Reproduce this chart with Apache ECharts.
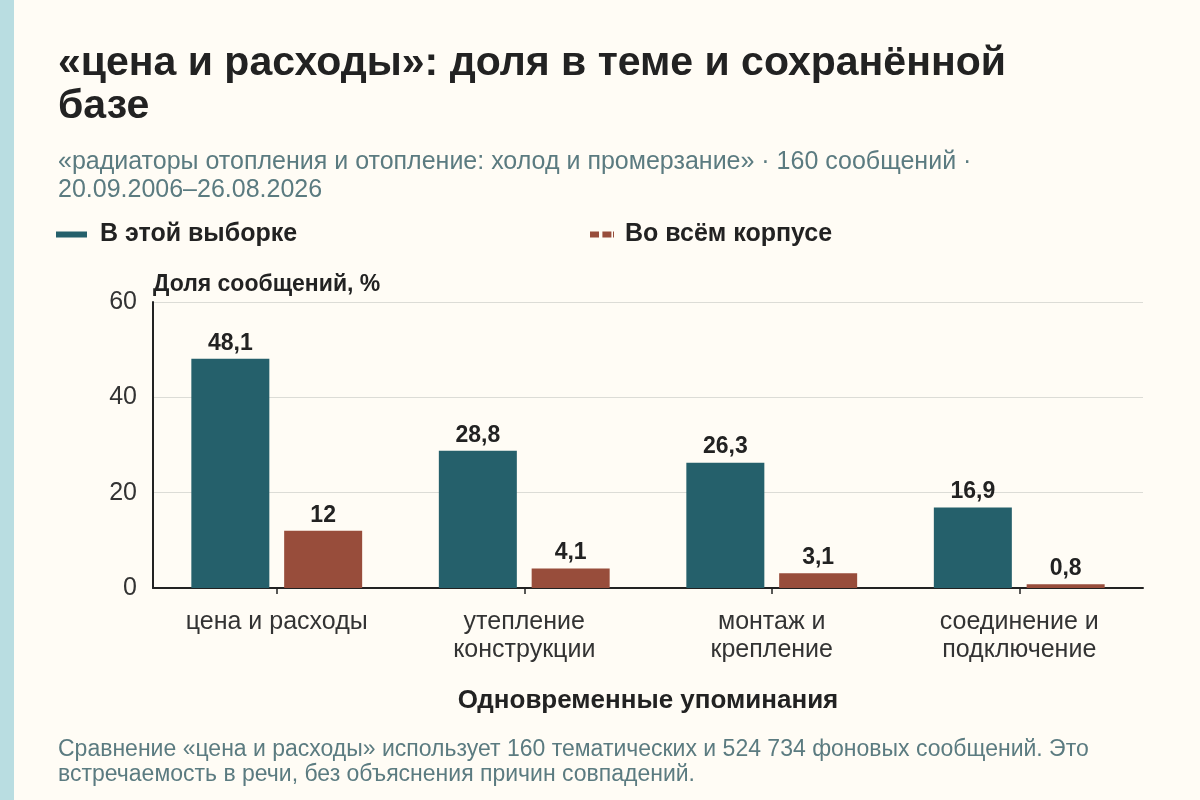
<!DOCTYPE html>
<html>
<head>
<meta charset="utf-8">
<script src="https://cdn.jsdelivr.net/npm/echarts@6/dist/echarts.min.js"></script>
<style>
  html, body { margin: 0; padding: 0; background: #fffcf5; }
  #chart { width: 1200px; height: 800px; }
</style>
</head>
<body>
<div id="chart"></div>
<script>
var categories = ['цена и расходы', 'утепление\nконструкции', 'монтаж и\nкрепление', 'соединение и\nподключение'];
var sampleShare = [48.1, 28.8, 26.3, 16.9];
var corpusShare = [12, 4.1, 3.1, 0.8];
var seriesNames = ['В этой выборке', 'Во всём корпусе'];
var yTicks = { min: 0, max: 60, interval: 20 };

var font = '"Liberation Sans", Arial, sans-serif';
var teal = '#25606b';
var brown = '#984d3b';

function fmt(p) {
    return String(p.value).replace('.', ',');
}

var chart = echarts.init(document.getElementById('chart'));
var option = {
    backgroundColor: '#fffcf5',
    textStyle: { fontFamily: font },
    title: [{
        text: '«цена и расходы»: доля в теме и сохранённой\nбазе',
        left: 53, top: 37,
        textStyle: { fontSize: 41, fontWeight: 'bold', color: '#222', lineHeight: 43, fontFamily: font }
    }, {
        text: '«радиаторы отопления и отопление: холод и промерзание» · 160 сообщений ·\n20.09.2006–26.08.2026',
        left: 53, top: 143,
        textStyle: { fontSize: 25, fontWeight: 'normal', color: '#5b7b80', lineHeight: 28, fontFamily: font }
    }, {
        text: 'Сравнение «цена и расходы» использует 160 тематических и 524 734 фоновых сообщений. Это\nвстречаемость в речи, без объяснения причин совпадений.',
        left: 53, top: 732,
        textStyle: { fontSize: 23, fontWeight: 'normal', color: '#5b7b80', lineHeight: 25, fontFamily: font }
    }],
    graphic: [{
        type: 'rect', left: 0, top: 0,
        shape: { width: 14, height: 800 },
        style: { fill: '#b9dde1' }
    }],
    legend: [{
        data: [seriesNames[0]],
        left: 56, top: 222, padding: 0,
        icon: 'rect', itemWidth: 31, itemHeight: 6,
        textStyle: { fontSize: 25, fontWeight: 'bold', color: '#222', fontFamily: font, padding: [0, 0, 0, 8] }
    }, {
        data: [seriesNames[1]],
        left: 590, top: 222, padding: 0,
        icon: 'path://M0,0H9V6H0Z M12.4,0H21.4V6H12.4Z M23,0H24V6H23Z',
        itemWidth: 24, itemHeight: 6,
        textStyle: { fontSize: 25, fontWeight: 'bold', color: '#222', fontFamily: font, padding: [0, 0, 0, 6] }
    }],
    grid: { left: 153, right: 57, top: 302, bottom: 212 },
    xAxis: {
        type: 'category',
        data: categories,
        name: 'Одновременные упоминания',
        nameLocation: 'middle',
        nameGap: 100,
        nameTextStyle: { fontSize: 26, fontWeight: 'bold', color: '#222', fontFamily: font },
        axisLine: { lineStyle: { color: '#222', width: 2 } },
        axisTick: { show: true, alignWithLabel: true, length: 6, lineStyle: { color: '#222', width: 1.5 } },
        axisLabel: { fontSize: 25, color: '#333', margin: 20, lineHeight: 28, fontFamily: font, interval: 0 }
    },
    yAxis: {
        type: 'value',
        min: yTicks.min, max: yTicks.max, interval: yTicks.interval,
        name: 'Доля сообщений, %',
        nameLocation: 'end',
        nameGap: 6,
        nameTextStyle: { fontSize: 23, fontWeight: 'bold', color: '#222', align: 'left', fontFamily: font },
        axisLine: { show: true, lineStyle: { color: '#222', width: 2 } },
        axisTick: { show: false },
        axisLabel: { fontSize: 25, color: '#333', margin: 16, fontFamily: font },
        splitLine: { lineStyle: { color: '#dcdcd6', width: 1 } }
    },
    series: [{
        name: seriesNames[0],
        type: 'bar',
        data: sampleShare,
        barWidth: 78,
        barGap: '19%',
        itemStyle: { color: teal },
        label: { show: true, position: 'top', distance: 4, formatter: fmt, fontSize: 23, fontWeight: 'bold', color: '#222', fontFamily: font }
    }, {
        name: seriesNames[1],
        type: 'bar',
        data: corpusShare,
        barWidth: 78,
        itemStyle: { color: brown },
        label: { show: true, position: 'top', distance: 4, formatter: fmt, fontSize: 23, fontWeight: 'bold', color: '#222', fontFamily: font }
    }]
};
chart.setOption(option);
</script>
</body>
</html>
